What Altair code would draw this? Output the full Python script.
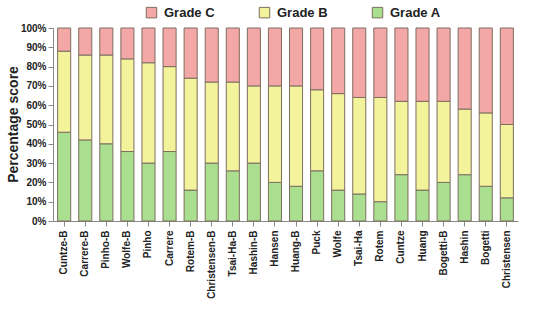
import altair as alt
import pandas as pd

models = ["Cuntze-B", "Carrere-B", "Pinho-B", "Wolfe-B", "Pinho", "Carrere", "Rotem-B",
          "Christensen-B", "Tsai-Ha-B", "Hashin-B", "Hansen", "Huang-B", "Puck", "Wolfe",
          "Tsai-Ha", "Rotem", "Cuntze", "Huang", "Bogetti-B", "Hashin", "Bogetti", "Christensen"]
grade_a = [46, 42, 40, 36, 30, 36, 16, 30, 26, 30, 20, 18, 26, 16, 14, 10, 24, 16, 20, 24, 18, 12]
grade_b = [42, 44, 46, 48, 52, 44, 58, 42, 46, 40, 50, 52, 42, 50, 50, 54, 38, 46, 42, 34, 38, 38]
grade_c = [12, 14, 14, 16, 18, 20, 26, 28, 28, 30, 30, 30, 32, 34, 36, 36, 38, 38, 38, 42, 44, 50]

grades = ["Grade C", "Grade B", "Grade A"]
colors = ["#F4A7A7", "#F3F39C", "#A9DF8F"]

rows = []
for i, m in enumerate(models):
    rows.append({"model": m, "grade": "Grade A", "value": grade_a[i] / 100, "ord": 0})
    rows.append({"model": m, "grade": "Grade B", "value": grade_b[i] / 100, "ord": 1})
    rows.append({"model": m, "grade": "Grade C", "value": grade_c[i] / 100, "ord": 2})
df = pd.DataFrame(rows)

chart = alt.Chart(df).mark_bar(stroke="#7d6e60", strokeWidth=1).encode(
    x=alt.X("model:N", sort=models, title=None,
            scale=alt.Scale(paddingInner=0.38, paddingOuter=0.22),
            axis=alt.Axis(labelAngle=-90, labelFontSize=10, labelFontWeight="bold",
                          labelColor="#222", labelFont="Liberation Sans", domainColor="#888",
                          tickColor="#888", labelPadding=4)),
    y=alt.Y("value:Q", stack="zero", title="Percentage score",
            scale=alt.Scale(domain=[0, 1], nice=False),
            axis=alt.Axis(format=".0%", values=[i / 10 for i in range(11)], grid=False,
                          labelFontSize=10, labelFontWeight="bold", labelColor="#222",
                          labelFont="Liberation Sans", titleFont="Liberation Sans",
                          titleFontSize=14, titleFontWeight="bold", titleColor="#222",
                          titleX=-40, titleY=96, titleAngle=270, titleAlign="center",
                          titleBaseline="middle",
                          domainColor="#888", tickColor="#888")),
    color=alt.Color("grade:N", scale=alt.Scale(domain=grades, range=colors),
                    legend=alt.Legend(orient="none", direction="horizontal", title=None,
                                      legendX=92, legendY=-22, symbolType="square",
                                      symbolSize=110, symbolStrokeColor="#7d6e60",
                                      symbolStrokeWidth=1, labelFontSize=13,
                                      labelFontWeight="bold", labelFont="Liberation Sans",
                                      labelColor="#222", columnPadding=42, labelOffset=6)),
    order=alt.Order("ord:Q"),
).properties(
    width=465, height=193,
    autosize=alt.AutoSizeParams(type="none"),
    padding={"left": 53, "top": 28, "right": 16, "bottom": 101},
).configure_view(stroke=None)

chart.save("out.html", embed_options={"renderer": "svg", "actions": False})
